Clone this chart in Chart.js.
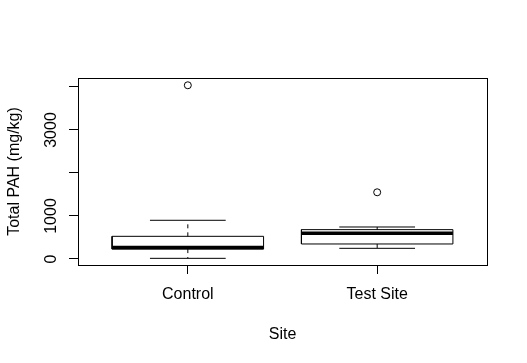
<!DOCTYPE html>
<html>
<head>
<meta charset="utf-8">
<script src="https://cdn.jsdelivr.net/npm/chart.js@4/dist/chart.umd.min.js"></script>
<style>
  html, body { margin: 0; padding: 0; background: #fff; }
  canvas { display: block; }
</style>
</head>
<body>
<canvas id="boxChart" width="527" height="363"></canvas>
<script>
// boxplot stats (mg/kg)
const categories = ['Control', 'Test Site'];
const lowerWhisker = [15, 248];
const q1 = [230, 349];
const median = [265, 597];
const q3 = [527, 682];
const upperWhisker = [900, 744];
const outliers = [[4040], [1551]];
const yTicks = [0, 1000, 2000, 3000, 4000];
const yTickLabels = ['0', '1000', '', '3000', ''];

const FONT = '"Liberation Sans", Arial, sans-serif';
const FONT_SIZE = 16;
const BOX_HALF = 0.4;
const CAP_HALF = 0.2;

function seg(x1, y1, x2, y2, extra) {
    return Object.assign({
        data: [{ x: x1, y: y1 }, { x: x2, y: y2 }],
        showLine: true,
        pointRadius: 0,
        borderColor: '#000',
        borderWidth: 1,
        fill: false
    }, extra || {});
}

const datasets = [];
categories.forEach((cat, i) => {
    const x = i + 1;
    // box
    datasets.push({
        data: [
            { x: x - BOX_HALF, y: q1[i] }, { x: x + BOX_HALF, y: q1[i] },
            { x: x + BOX_HALF, y: q3[i] }, { x: x - BOX_HALF, y: q3[i] },
            { x: x - BOX_HALF, y: q1[i] }
        ],
        showLine: true, pointRadius: 0, borderColor: '#000', borderWidth: 1, fill: false
    });
    // whiskers (dashed) and caps
    datasets.push(seg(x, q3[i], x, upperWhisker[i], { borderDash: [4, 4] }));
    datasets.push(seg(x, q1[i], x, lowerWhisker[i], { borderDash: [4, 4] }));
    datasets.push(seg(x - CAP_HALF, upperWhisker[i], x + CAP_HALF, upperWhisker[i]));
    datasets.push(seg(x - CAP_HALF, lowerWhisker[i], x + CAP_HALF, lowerWhisker[i]));
    // median
    datasets.push(seg(x - BOX_HALF, median[i], x + BOX_HALF, median[i], { borderWidth: 3.5, borderCapStyle: 'butt' }));
    // outliers
    datasets.push({
        data: outliers[i].map(v => ({ x: x, y: v })),
        showLine: false,
        pointStyle: 'circle',
        pointRadius: 3.5,
        pointBorderWidth: 1,
        pointBorderColor: '#000',
        pointBackgroundColor: 'rgba(0,0,0,0)'
    });
});

// rotated y tick labels + full plot frame, like base R
const frameAndLabels = {
    id: 'frameAndLabels',
    afterDraw(chart) {
        const { ctx, scales: { y } } = chart;
        const a = chart.chartArea;
        ctx.save();
        ctx.strokeStyle = '#000';
        ctx.lineWidth = 1;
        ctx.strokeRect(Math.round(a.left) + 0.5, Math.round(a.top) + 0.5,
            Math.round(a.right - a.left), Math.round(a.bottom - a.top));
        ctx.font = FONT_SIZE + 'px ' + FONT;
        ctx.fillStyle = '#000';
        ctx.textAlign = 'center';
        ctx.textBaseline = 'middle';
        yTicks.forEach((v, i) => {
            if (!yTickLabels[i]) return;
            ctx.save();
            ctx.translate(y.right - 26, y.getPixelForValue(v));
            ctx.rotate(-Math.PI / 2);
            ctx.fillText(yTickLabels[i], 0, 0);
            ctx.restore();
        });
        ctx.restore();
    }
};

new Chart(document.getElementById('boxChart'), {
    type: 'scatter',
    data: { datasets },
    options: {
        responsive: false,
        animation: false,
        devicePixelRatio: 1,
        layout: { padding: { top: 78, right: 40, left: 0, bottom: 0 } },
        plugins: { legend: { display: false }, tooltip: { enabled: false } },
        scales: {
            x: {
                type: 'linear',
                min: 0.42,
                max: 2.58,
                afterBuildTicks: (s) => { s.ticks = categories.map((c, i) => ({ value: i + 1 })); },
                afterFit: (s) => { s.height = 98; },
                grid: { drawOnChartArea: false, drawTicks: true, tickLength: 9, color: '#000' },
                border: { display: true, color: '#000' },
                ticks: {
                    color: '#000',
                    padding: 11,
                    font: { family: FONT, size: FONT_SIZE },
                    callback: (v) => categories[v - 1] || ''
                },
                title: {
                    display: true, text: 'Site', color: '#000',
                    font: { family: FONT, size: FONT_SIZE },
                    padding: { top: 0, bottom: 19 }
                }
            },
            y: {
                type: 'linear',
                min: -140,
                max: 4209,
                afterBuildTicks: (s) => { s.ticks = yTicks.map(v => ({ value: v })); },
                afterFit: (s) => { s.width = 78; },
                grid: { drawOnChartArea: false, drawTicks: true, tickLength: 9, color: '#000' },
                border: { display: true, color: '#000' },
                ticks: { display: false },
                title: {
                    display: true, text: 'Total PAH (mg/kg)', color: '#000',
                    font: { family: FONT, size: FONT_SIZE },
                    padding: { top: 5, bottom: 0 }
                }
            }
        }
    },
    plugins: [frameAndLabels]
});
</script>
</body>
</html>
